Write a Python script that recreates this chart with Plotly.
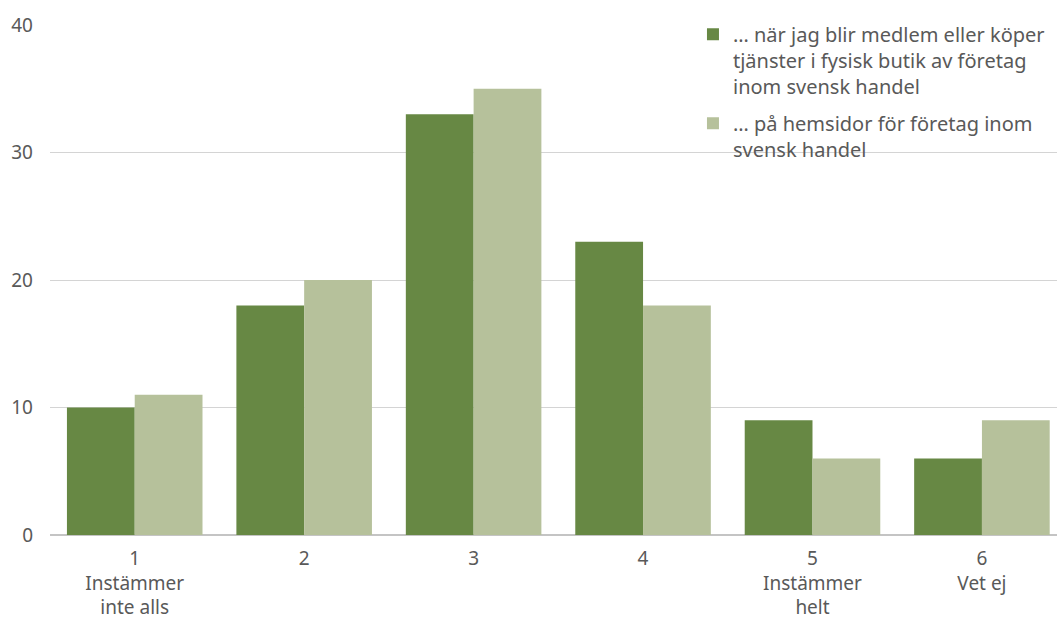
import plotly.graph_objects as go

categories = ["1<br>Instämmer<br>inte alls", "2", "3", "4", "5<br>Instämmer<br>helt", "6<br>Vet ej"]
series_names = [
    "… när jag blir medlem eller köper<br>tjänster i fysisk butik av företag<br>inom svensk handel",
    "… på hemsidor för företag inom<br>svensk handel",
]
store_values = [10, 18, 33, 23, 9, 6]
web_values = [11, 20, 35, 18, 6, 9]
y_ticks = [0, 10, 20, 30, 40]

FONT = "'Noto Sans', Lato, sans-serif"
GREY = "#595959"

fig = go.Figure()
fig.add_trace(go.Bar(x=categories, y=store_values, name=series_names[0], legendgroup="a",
                     marker=dict(color="#678844", line=dict(width=0))))
fig.add_trace(go.Bar(x=categories, y=web_values, name=series_names[1], legendgroup="b",
                     marker=dict(color="#b6c19b", line=dict(width=0))))

# white panel behind the legend hiding the gridlines there
fig.add_shape(type="rect", xref="paper", yref="paper", x0=0.602, x1=1.0, y0=0.72, y1=1.05,
              fillcolor="white", line=dict(width=0), layer="between")

fig.update_layout(
    width=1057, height=619,
    margin=dict(l=50, r=0, t=25, b=84),
    paper_bgcolor="white", plot_bgcolor="white",
    barmode="group", bargap=0.2, bargroupgap=0,
    font=dict(family=FONT, size=20, color=GREY),
    showlegend=True,
    legend=dict(x=0.6385, y=1.02, xanchor="left", yanchor="top",
                bgcolor="rgba(0,0,0,0)", font=dict(size=20, color=GREY),
                tracegroupgap=8, valign="top", itemwidth=30),
    xaxis=dict(range=[-0.5, 5.443], showgrid=False, ticks="", showline=False,
               ticklabelstandoff=10, tickfont=dict(size=19, color=GREY)),
    yaxis=dict(range=[0, 40], tickvals=y_ticks, showgrid=True, gridcolor="#d4d4d4",
               gridwidth=1, zeroline=True, zerolinecolor="#c4c4c4", zerolinewidth=2,
               ticks="", ticklabelstandoff=16, tickfont=dict(size=19, color=GREY)),
)

fig.write_html("out.html")
